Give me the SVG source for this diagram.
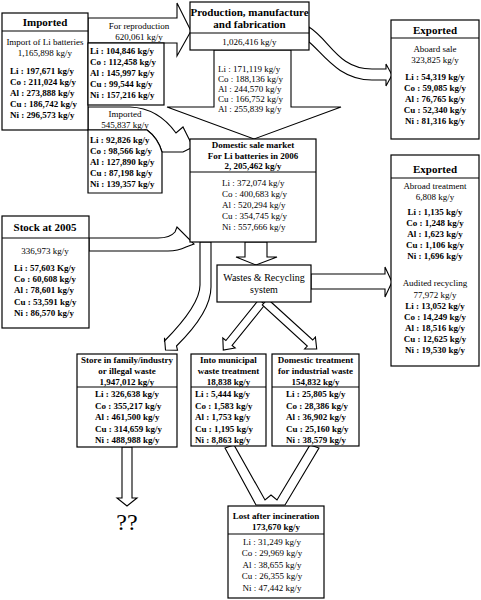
<svg xmlns="http://www.w3.org/2000/svg" width="481" height="600" viewBox="0 0 481 600">
<style>
.b{fill:#fff;stroke:#000;stroke-width:1.2}
.a{fill:#fff;stroke:#000;stroke-width:1.1;stroke-linejoin:miter}
.d{fill:none;stroke:#000;stroke-width:1.2}
text{font-family:"Liberation Serif","Times New Roman",serif;fill:#000;dominant-baseline:central}
.t{font-size:11px;font-weight:bold;text-anchor:middle}
.s{font-size:9px;font-weight:bold;text-anchor:middle}
.n{font-size:9px;text-anchor:middle}
.r{font-size:9px}
.k{font-size:9px;font-weight:bold}
.m{font-size:9px;font-weight:bold;text-anchor:middle}
.w{font-size:10px;text-anchor:middle}
.q{font-size:24px;text-anchor:middle}
</style>
<rect width="481" height="600" fill="#fff"/>
<g id="connectors">
  <path class="a" d="M88,18 L177,18 L177,3 L191,31 L177,56 L177,43 L88,43 Z"/>
  <path class="a" d="M214,50 L214,107 L167,107 L254,139 L341,107 L291,107 L291,50 Z"/>
  <path class="a" d="M88,107 L130,107 Q158,108 176,133 L183,127 L193,147 L183,152 L162,152 Q158,138 147,130 L88,130 Z"/>
  <path class="a" d="M309,27 C330,40 338,69 372,69 L386,69 L386,64 L392,75 L386,86 L386,80 L372,80 C338,80 322,52 309,42 Z"/>
  <path class="a" d="M89,238 L158,238 Q170,238 175,232 L177,227 L194,244 L186,247 Q178,251 168,251 L89,251 Z"/>
  <path class="a" d="M245,242 L245,257 L236,257 L256,265 L277,257 L267,257 L267,242 Z"/>
  <path class="a" d="M311,274 L385,274 L385,267 L392,282 L385,297 L385,289 L311,289 Z"/>
  <path class="a" d="M200,242 L200,285 Q200,305 164.5,341 L164.5,337.8 L165.5,350 L177.5,350.2 L176.5,346 Q211,312 211,287 L211,242 Z"/>
  <path class="a" d="M265.1,304.5 L232.1,345.5 L235.2,348 L223.3,350 L222.8,338 L225.9,340.5 L258.9,299.5 Z"/>
  <path class="a" d="M267.7,299 L312.7,340 L315.4,337.1 L316.7,349 L304.6,348.9 L307.3,346 L262.3,305 Z"/>
  <path class="a" d="M225,448 L256,505 L285,505 L319,448 L310,445 L277,500 L271,495 L265,500 L234,445 Z"/>
  <path class="a" d="M122,447 L122,498 L117,498 L127,506 L137,498 L132,498 L132,447 Z"/>
  <text class="n" x="139" y="26">For reproduction</text>
  <text class="n" x="139" y="37">620,061 kg/y</text>
  <text class="n" x="125" y="114">Imported</text>
  <text class="n" x="125" y="125">545,837 kg/y</text>
  <text class="r" x="218" y="69">Li : 171,119 kg/y</text>
  <text class="r" x="218" y="79">Co : 188,136 kg/y</text>
  <text class="r" x="218" y="89">Al : 244,570 kg/y</text>
  <text class="r" x="218" y="99">Cu : 166,752 kg/y</text>
  <text class="r" x="218" y="109">Al : 255,839 kg/y</text>
  <text class="q" x="127" y="522">??</text>
</g>
<g id="imported">
  <rect class="b" x="2" y="13" width="86" height="117"/>
  <line class="d" x1="2" y1="31" x2="88" y2="31"/>
  <text class="t" x="45" y="22">Imported</text>
  <text class="n" x="45" y="42">Import of Li batteries</text>
  <text class="n" x="45" y="53">1,165,898 kg/y</text>
  <text class="k" x="10" y="71">Li : 197,671 kg/y</text>
  <text class="k" x="10" y="82">Co : 211,024 kg/y</text>
  <text class="k" x="10" y="93">Al : 273,888 kg/y</text>
  <text class="k" x="10" y="104">Cu : 186,742 kg/y</text>
  <text class="k" x="10" y="115">Ni : 296,573 kg/y</text>
</g>
<g id="reproduction-data">
  <rect class="b" x="88" y="43" width="76" height="62"/>
  <text class="k" x="90" y="51">Li : 104,846 kg/y</text>
  <text class="k" x="90" y="62">Co : 112,458 kg/y</text>
  <text class="k" x="90" y="73">Al : 145,997 kg/y</text>
  <text class="k" x="90" y="84">Cu : 99,544 kg/y</text>
  <text class="k" x="90" y="95">Ni : 157,216 kg/y</text>
</g>
<g id="imported-data">
  <path class="b" d="M88,130 L147,130 Q158,138 162,152 L162,193 L88,193 Z"/>
  <text class="k" x="90" y="140">Li : 92,826 kg/y</text>
  <text class="k" x="90" y="151">Co : 98,566 kg/y</text>
  <text class="k" x="90" y="162">Al : 127,890 kg/y</text>
  <text class="k" x="90" y="173">Cu : 87,198 kg/y</text>
  <text class="k" x="90" y="184">Ni : 139,357  kg/y</text>
</g>
<g id="production">
  <rect class="b" x="190" y="2" width="119" height="48"/>
  <line class="d" x1="190" y1="33" x2="309" y2="33"/>
  <text class="t" x="249.5" y="12">Production, manufacture</text>
  <text class="t" x="249.5" y="24">and fabrication</text>
  <text class="n" x="249.5" y="42">1,026,416 kg/y</text>
</g>
<g id="exported-sale">
  <rect class="b" x="391" y="20" width="88" height="119"/>
  <line class="d" x1="391" y1="38" x2="479" y2="38"/>
  <text class="t" x="435" y="30">Exported</text>
  <text class="n" x="435" y="49">Aboard sale</text>
  <text class="n" x="435" y="60">323,825 kg/y</text>
  <text class="m" x="435" y="77">Li : 54,319 kg/y</text>
  <text class="m" x="435" y="88">Co : 59,085 kg/y</text>
  <text class="m" x="435" y="99">Al : 76,765 kg/y</text>
  <text class="m" x="435" y="110">Cu : 52,340 kg/y</text>
  <text class="m" x="435" y="121">Ni : 81,316 kg/y</text>
</g>
<g id="domestic-market">
  <rect class="b" x="190" y="139" width="126" height="103"/>
  <line class="d" x1="190" y1="172" x2="316" y2="172"/>
  <text class="s" x="253" y="145">Domestic sale market</text>
  <text class="s" x="253" y="156">For Li batteries  in 2006</text>
  <text class="s" x="253" y="166">2, 205,462 kg/y</text>
  <text class="r" x="222" y="183">Li : 372,074 kg/y</text>
  <text class="r" x="222" y="194">Co : 400,683  kg/y</text>
  <text class="r" x="222" y="205">Al : 520,294 kg/y</text>
  <text class="r" x="222" y="216">Cu : 354,745 kg/y</text>
  <text class="r" x="222" y="227">Ni : 557,666 kg/y</text>
</g>
<g id="exported-treatment">
  <rect class="b" x="391" y="155" width="88" height="211"/>
  <line class="d" x1="391" y1="178" x2="479" y2="178"/>
  <text class="t" x="435" y="169">Exported</text>
  <text class="n" x="435" y="186">Abroad treatment</text>
  <text class="n" x="435" y="197">6,808 kg/y</text>
  <text class="m" x="435" y="212">Li : 1,135 kg/y</text>
  <text class="m" x="435" y="223">Co : 1,248 kg/y</text>
  <text class="m" x="435" y="234">Al : 1,623 kg/y</text>
  <text class="m" x="435" y="245">Cu : 1,106 kg/y</text>
  <text class="m" x="435" y="256">Ni : 1,696 kg/y</text>
  <text class="n" x="435" y="283">Audited recycling</text>
  <text class="n" x="435" y="295">77,972 kg/y</text>
  <text class="m" x="435" y="306">Li : 13,052 kg/y</text>
  <text class="m" x="435" y="317">Co : 14,249 kg/y</text>
  <text class="m" x="435" y="328">Al : 18,516 kg/y</text>
  <text class="m" x="435" y="339">Cu : 12,625 kg/y</text>
  <text class="m" x="435" y="350">Ni : 19,530 kg/y</text>
</g>
<g id="stock">
  <rect class="b" x="2" y="216" width="87" height="112"/>
  <line class="d" x1="2" y1="238" x2="89" y2="238"/>
  <text class="t" x="45" y="227">Stock at 2005</text>
  <text class="n" x="45" y="251">336,973 kg/y</text>
  <text class="k" x="14" y="268">Li : 57,603 Kg/y</text>
  <text class="k" x="14" y="279">Co : 60,608  kg/y</text>
  <text class="k" x="14" y="290">Al : 78,601  kg/y</text>
  <text class="k" x="14" y="302">Cu : 53,591 kg/y</text>
  <text class="k" x="14" y="313">Ni : 86,570 kg/y</text>
</g>
<g id="wastes">
  <rect class="b" x="217" y="265" width="94" height="37"/>
  <text class="w" x="264" y="277">Wastes &amp; Recycling</text>
  <text class="w" x="264" y="289">system</text>
</g>
<g id="store">
  <rect class="b" x="77" y="354" width="100" height="93"/>
  <line class="d" x1="77" y1="387" x2="177" y2="387"/>
  <text class="s" x="127" y="360">Store in family/industry</text>
  <text class="s" x="127" y="371">or illegal waste</text>
  <text class="s" x="127" y="382">1,947,012 kg/y</text>
  <text class="k" x="95" y="394">Li : 326,638  kg/y</text>
  <text class="k" x="95" y="405.5">Co : 355,217 kg/y</text>
  <text class="k" x="95" y="417">Al : 461,500 kg/y</text>
  <text class="k" x="95" y="428.5">Cu : 314,659 kg/y</text>
  <text class="k" x="95" y="440">Ni : 488,988 kg/y</text>
</g>
<g id="municipal">
  <rect class="b" x="191" y="354" width="75" height="92"/>
  <line class="d" x1="191" y1="387" x2="266" y2="387"/>
  <text class="s" x="228.5" y="360">Into municipal</text>
  <text class="s" x="228.5" y="371">waste treatment</text>
  <text class="s" x="228.5" y="382">18,838 kg/y</text>
  <text class="k" x="195" y="394">Li : 5,444  kg/y</text>
  <text class="k" x="195" y="405.5">Co : 1,583 kg/y</text>
  <text class="k" x="195" y="417">Al : 1,753 kg/y</text>
  <text class="k" x="195" y="428.5">Cu : 1,195 kg/y</text>
  <text class="k" x="195" y="440">Ni : 8,863 kg/y</text>
</g>
<g id="industrial">
  <rect class="b" x="272" y="354" width="87" height="92"/>
  <line class="d" x1="272" y1="387" x2="359" y2="387"/>
  <text class="s" x="315.5" y="360">Domestic treatment</text>
  <text class="s" x="315.5" y="371">for industrial waste</text>
  <text class="s" x="315.5" y="382">154,832 kg/y</text>
  <text class="k" x="286" y="394">Li : 25,805 kg/y</text>
  <text class="k" x="286" y="405.5">Co : 28,386 kg/y</text>
  <text class="k" x="286" y="417">Al : 36,902 kg/y</text>
  <text class="k" x="286" y="428.5">Cu : 25,160 kg/y</text>
  <text class="k" x="286" y="440">Ni : 38,579 kg/y</text>
</g>
<g id="lost">
  <rect class="b" x="228" y="506" width="96" height="92"/>
  <line class="d" x1="228" y1="534" x2="324" y2="534"/>
  <text class="s" x="276" y="516">Lost after incineration</text>
  <text class="s" x="276" y="527">173,670 kg/y</text>
  <text class="n" x="272" y="542">Li : 31,249  kg/y</text>
  <text class="n" x="272" y="553">Co : 29,969 kg/y</text>
  <text class="n" x="272" y="565">Al : 38,655 kg/y</text>
  <text class="n" x="272" y="576">Cu : 26,355 kg/y</text>
  <text class="n" x="272" y="588">Ni : 47,442 kg/y</text>
</g>
</svg>
